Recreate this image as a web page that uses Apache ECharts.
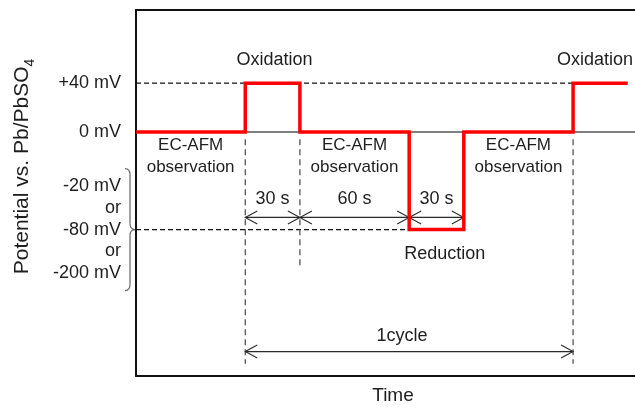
<!DOCTYPE html>
<html>
<head>
<meta charset="utf-8">
<script src="https://cdn.jsdelivr.net/npm/echarts@6/dist/echarts.min.js"></script>
<style>
  html, body { margin: 0; padding: 0; background: #fff; }
  #chart { width: 635px; height: 410px; }
</style>
</head>
<body>
<div id="chart"></div>
<script>
// Potential program: step times (s) and applied potential (mV vs. Pb/PbSO4)
const stepTimes = [-60, 0, 30, 90, 120, 180, 210];
const stepPotentials = [0, 40, 0, -80, 0, 40, 40];

// Potential axis labels
const tickValues = [40, 0, -80];
const tickLabels = ['+40 mV', '0 mV', '-20 mV\nor\n-80 mV\nor\n-200 mV'];

// Dashed reference levels: [startTime, endTime, potential]
const guideLevels = [[-60, 180, 40], [-60, 90, -80]];
// Solid 0 mV level: [startTime, endTime, potential]
const baseLevel = [-60, 214, 0];
// Vertical markers: [time, topPotential, bottomPotential]
const markerTimes = [[0, -6, -190], [30, -6, -110], [180, -6, -190]];

// Duration arrows: [fromTime, toTime, potential]
const spanArrows = [[0, 30, -70], [30, 90, -70], [90, 120, -70], [0, 180, -180]];

// Annotation text: [time, potential, text]
const notes = [
  [16, 59, 'Oxidation'],
  [192, 59, 'Oxidation'],
  [-30, -20, 'EC-AFM\nobservation'],
  [60, -20, 'EC-AFM\nobservation'],
  [150, -20, 'EC-AFM\nobservation'],
  [15, -55, '30 s'],
  [60, -55, '60 s'],
  [105, -55, '30 s'],
  [109.5, -100, 'Reduction'],
  [86, -167, '1cycle']
];
// smaller type for the two-line phase notes
const noteSizes = [18, 18, 17, 17, 17, 18, 18, 18, 18, 18];

const FONT = '"Liberation Sans", Arial, sans-serif';
const INK = '#1e1e1e';

const chart = echarts.init(document.getElementById('chart'), null, { renderer: 'canvas' });

const plainAxisX = {
  type: 'value', min: -60, max: 214,
  axisLine: { show: true, onZero: false, lineStyle: { color: '#111', width: 2 } },
  axisTick: { show: false }, axisLabel: { show: false }, splitLine: { show: false }
};

function arrowItem(params, api) {
  const a = api.coord([api.value(0), api.value(2)]);
  const b = api.coord([api.value(1), api.value(2)]);
  const L = 12, W = 6.5;
  const style = { stroke: '#2a2a2a', lineWidth: 1.1, fill: null };
  return {
    type: 'group',
    children: [
      { type: 'line', shape: { x1: a[0], y1: a[1], x2: b[0], y2: b[1] }, style: style },
      { type: 'polyline', shape: { points: [[a[0] + L, a[1] - W], a, [a[0] + L, a[1] + W]] }, style: style },
      { type: 'polyline', shape: { points: [[b[0] - L, b[1] - W], b, [b[0] - L, b[1] + W]] }, style: style }
    ]
  };
}

function noteItem(params, api) {
  const p = api.coord([api.value(0), api.value(1)]);
  return {
    type: 'text',
    x: p[0], y: p[1],
    style: {
      text: notes[params.dataIndex][2],
      align: 'center', verticalAlign: 'middle',
      fontSize: noteSizes[params.dataIndex], fontFamily: FONT, lineHeight: 21.5, fill: INK
    }
  };
}

// Curly brace grouping the alternative reduction potentials
function braceItem(params, api) {
  const mid = api.coord([api.value(0), api.value(1)]);
  const top = api.coord([api.value(0), api.value(2)])[1];
  const bot = api.coord([api.value(0), api.value(3)])[1];
  const xa = mid[0], ym = mid[1];
  const xe = xa - 11, xs = xa - 6, xt = xa - 1;
  const style = { stroke: '#666', lineWidth: 1.2, fill: null };
  return {
    type: 'group',
    children: [
      { type: 'bezierCurve', shape: { x1: xe, y1: top, cpx1: xs, cpy1: top, x2: xs, y2: top + 6 }, style: style },
      { type: 'line', shape: { x1: xs, y1: top + 6, x2: xs, y2: ym - 6 }, style: style },
      { type: 'bezierCurve', shape: { x1: xs, y1: ym - 6, cpx1: xs, cpy1: ym, x2: xt, y2: ym }, style: style },
      { type: 'bezierCurve', shape: { x1: xt, y1: ym, cpx1: xs, cpy1: ym, x2: xs, y2: ym + 6 }, style: style },
      { type: 'line', shape: { x1: xs, y1: ym + 6, x2: xs, y2: bot - 6 }, style: style },
      { type: 'bezierCurve', shape: { x1: xs, y1: bot - 6, cpx1: xs, cpy1: bot, x2: xe, y2: bot }, style: style }
    ]
  };
}

const series = [];

// thin solid 0 mV level
series.push({
  type: 'line', silent: true, symbol: 'none', z: 2,
  data: [[baseLevel[0], baseLevel[2]], [baseLevel[1], baseLevel[2]]],
  lineStyle: { color: '#000', width: 1 }
});

// dashed guide levels
guideLevels.forEach(function (g) {
  series.push({
    type: 'line', silent: true, symbol: 'none', z: 2,
    data: [[g[0], g[2]], [g[1], g[2]]],
    lineStyle: { color: '#111', width: 1.2, type: [5, 3] }
  });
});

// dashed vertical markers
markerTimes.forEach(function (m) {
  series.push({
    type: 'line', silent: true, symbol: 'none', z: 2,
    data: [[m[0], m[1]], [m[0], m[2]]],
    lineStyle: { color: '#444', width: 1.2, type: [6, 4] }
  });
});

// applied potential waveform
series.push({
  type: 'line', silent: true, symbol: 'none', step: 'end', z: 5,
  data: stepTimes.map(function (t, i) { return [t, stepPotentials[i]]; }),
  lineStyle: { color: '#ff0000', width: 3.5, join: 'miter', cap: 'butt' }
});

series.push({
  type: 'custom', silent: true, z: 4, clip: false,
  data: spanArrows, renderItem: arrowItem
});

series.push({
  type: 'custom', silent: true, z: 6, clip: false,
  data: notes.map(function (n) { return [n[0], n[1]]; }), renderItem: noteItem
});

series.push({
  type: 'custom', silent: true, z: 6, clip: false,
  data: [[-60, -80, -30, -130]], renderItem: braceItem
});

chart.setOption({
  animation: false,
  backgroundColor: '#fff',
  grid: { left: 136, right: 0, top: 10, bottom: 31, containLabel: false },
  xAxis: [
    Object.assign({}, plainAxisX, {
      position: 'bottom',
      name: 'Time', nameLocation: 'middle', nameGap: 10,
      nameTextStyle: { fontSize: 19, fontFamily: FONT, color: INK, padding: [0, 0, 0, 15] }
    }),
    Object.assign({}, plainAxisX, { position: 'top' })
  ],
  yAxis: {
    type: 'value', min: -200, max: 100, interval: 20, position: 'left',
    axisLine: { show: true, onZero: false, lineStyle: { color: '#111', width: 2 } },
    axisTick: { show: false }, splitLine: { show: false },
    axisLabel: {
      margin: 15, fontSize: 18, fontFamily: FONT, color: INK, lineHeight: 21.7,
      formatter: function (v) {
        const i = tickValues.indexOf(v);
        return i >= 0 ? tickLabels[i] : '';
      }
    },
    name: '{m|Potential vs. Pb/PbSO}{s|4}',
    nameLocation: 'middle', nameRotate: 90, nameGap: 99,
    nameTextStyle: {
      fontSize: 21, fontFamily: FONT, color: INK, padding: [0, 0, 0, 53],
      rich: {
        m: { fontSize: 21, fontFamily: FONT, color: INK, lineHeight: 25, verticalAlign: 'top' },
        s: { fontSize: 14, fontFamily: FONT, color: INK, lineHeight: 25, verticalAlign: 'bottom' }
      }
    }
  },
  series: series
});
</script>
</body>
</html>
